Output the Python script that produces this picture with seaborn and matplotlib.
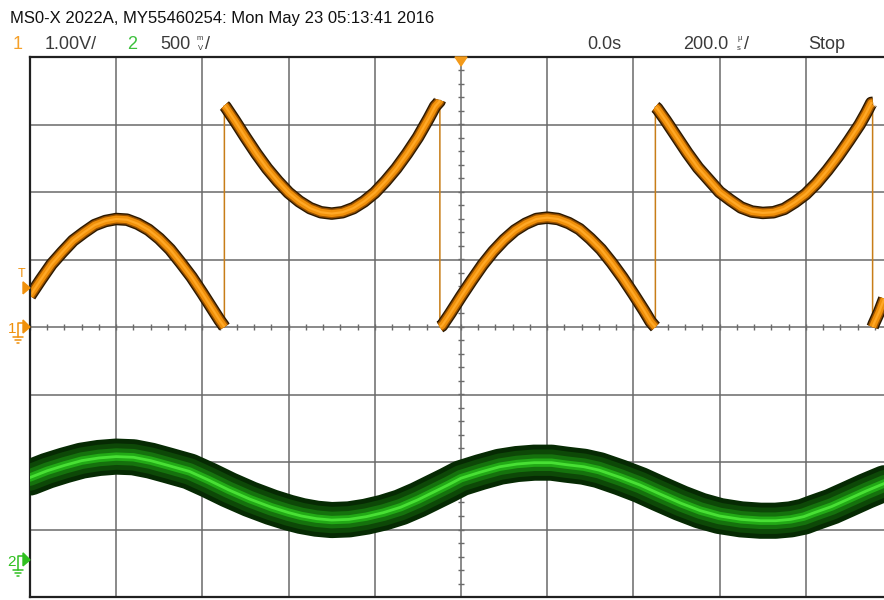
import numpy as np
import pandas as pd
import seaborn as sns
import matplotlib.pyplot as plt
from matplotlib.lines import Line2D
from matplotlib.patches import Polygon

# header texts
title = 'MS0-X 2022A, MY55460254: Mon May 23 05:13:41 2016'
ch1_label = '1'
ch1_scale = '1.00V/'
ch2_label = '2'
ch2_scale = '500'
time_pos = '0.0s'
time_scale = '200.0'
run_state = 'Stop'

# channel 1, time in us, volts (a repeated time is a vertical edge)
ch1_t = [-1000, -975, -950, -925, -900, -875, -850, -825, -800, -775, -750, -725, -700,
         -675, -650, -625, -600, -575, -560, -552, -549,
         -549, -546, -525, -500, -475, -450, -425, -400, -375, -350, -325, -300, -275,
         -250, -225, -200, -175, -150, -125, -100, -75, -60, -50, -49,
         -49, -44, -25, 0, 25, 50, 75, 100, 125, 150, 175, 200, 225, 250, 275, 300,
         325, 350, 375, 400, 425, 440, 448, 451,
         451, 455, 475, 500, 525, 550, 575, 600, 625, 650, 675, 700, 725, 750, 775,
         800, 825, 850, 875, 900, 925, 940, 952, 955,
         955, 958, 970, 982]
ch1_v = [0.46, 0.70, 0.93, 1.11, 1.28, 1.40, 1.51, 1.57, 1.60, 1.59, 1.53, 1.44, 1.31,
         1.15, 0.95, 0.74, 0.50, 0.25, 0.10, 0.03, 0.0,
         3.28, 3.26, 3.06, 2.81, 2.57, 2.35, 2.16, 1.99, 1.86, 1.76, 1.70, 1.68, 1.70,
         1.76, 1.86, 1.99, 2.16, 2.35, 2.57, 2.81, 3.09, 3.27, 3.34, 3.36,
         0.0, 0.02, 0.20, 0.45, 0.69, 0.92, 1.12, 1.29, 1.43, 1.53, 1.60, 1.62, 1.60, 1.54,
         1.45, 1.31, 1.15, 0.95, 0.73, 0.49, 0.24, 0.08, 0.02, 0.0,
         3.26, 3.24, 3.06, 2.82, 2.58, 2.36, 2.18, 2.00, 1.88, 1.77, 1.71, 1.69, 1.70, 1.75,
         1.85, 1.97, 2.13, 2.32, 2.53, 2.76, 3.00, 3.17, 3.32, 3.32,
         0.0, 0.05, 0.22, 0.42]

# channel 2, time in us, volts
ch2_t = [-1000, -960, -920, -880, -840, -800, -760, -720, -680, -630, -585, -540, -490,
         -440, -400, -370, -335, -300, -260, -220, -180, -140, -100, -65, -30,
         0, 45, 90, 130, 170, 210, 245, 285, 320, 370, 415, 460, 510, 555, 600,
         650, 695, 730, 765, 795, 820, 860, 895, 940, 985]
ch2_v = [0.61, 0.66, 0.70, 0.735, 0.755, 0.765, 0.76, 0.735, 0.70, 0.655, 0.59, 0.52, 0.45,
         0.39, 0.35, 0.325, 0.305, 0.295, 0.30, 0.32, 0.35, 0.39, 0.445, 0.50, 0.555,
         0.605, 0.65, 0.69, 0.71, 0.72, 0.72, 0.705, 0.69, 0.665, 0.61, 0.555, 0.49, 0.42,
         0.365, 0.325, 0.30, 0.29, 0.29, 0.30, 0.32, 0.35, 0.395, 0.445, 0.51, 0.57]

trig_level = 0.58
ch2_ground_div = -3.45

orange = '#f0900a'
green = '#3cc03c'
gridc = '#6a6a6a'
textc = '#3a3a3a'

sns.set_style('white')
plt.rcParams['font.family'] = ['Liberation Sans', 'DejaVu Sans']

W, H = 884, 600
fig = plt.figure(figsize=(W / 100, H / 100), dpi=100)
fig.patch.set_facecolor('white')


def fx(x):
    return x / W


def fy(y):
    return 1 - y / H


ax = fig.add_axes([fx(30), 3 / H, 862 / W, 540 / H])
ax.set_xlim(-1000, 1000)
ax.set_ylim(-4, 4)
ax.set_xticks(np.arange(-1000, 1001, 200))
ax.set_yticks(np.arange(-4, 5, 1))
ax.grid(True, color=gridc, lw=1.1)
ax.set_axisbelow(True)
ax.tick_params(length=0, labelbottom=False, labelleft=False)
for s in ['top', 'bottom', 'left']:
    ax.spines[s].set_color('#202020')
    ax.spines[s].set_linewidth(1.6)
ax.spines['right'].set_visible(False)

# minor ticks on the centre lines
ax.vlines(np.arange(-1000, 1001, 40), -0.05, 0.05, color=gridc, lw=1)
ax.hlines(np.arange(-4, 4.01, 0.2), -8, 8, color=gridc, lw=1)

# channel 1
t1 = np.array(ch1_t, float)
v1 = np.array(ch1_v, float)
seg = np.concatenate([[0], np.cumsum(np.diff(t1) == 0)])
df1 = pd.DataFrame({'t': t1, 'v': v1, 'seg': seg})
sns.lineplot(data=df1, x='t', y='v', sort=False, estimator=None,
             color='#c87d18', lw=1.1, ax=ax)
for col, lw in [('#2a1800', 9), ('#9a5200', 7), (orange, 5), ('#ffa826', 1.6)]:
    sns.lineplot(data=df1, x='t', y='v', units='seg', sort=False, estimator=None,
                 color=col, lw=lw, ax=ax, solid_capstyle='butt')
ax.set_xlabel('')
ax.set_ylabel('')

# channel 2 on its own scale (500 mV/div)
ax2 = ax.twinx()
ax2.set_ylim((-4 - ch2_ground_div) * 0.5, (4 - ch2_ground_div) * 0.5)
df2 = pd.DataFrame({'t': ch2_t, 'v': ch2_v})
for col, lw in [('#062a03', 26), ('#0d4807', 19), ('#15720d', 12), ('#22aa16', 6), ('#48e034', 2)]:
    sns.lineplot(data=df2, x='t', y='v', sort=False, estimator=None,
                 color=col, lw=lw, ax=ax2)
ax2.set_ylabel('')
ax2.set_yticks([])
ax2.grid(False)
for s in ax2.spines.values():
    s.set_visible(False)

# header
fig.text(fx(10), fy(23), title, fontsize=12.0, color='#111111', va='baseline')
fig.text(fx(13), fy(49), ch1_label, fontsize=13, color='#f5a02a', va='baseline')
fig.text(fx(45), fy(49), ch1_scale, fontsize=13, color=textc, va='baseline')
fig.text(fx(127), fy(49), ch2_label, fontsize=13, color=green, va='baseline')
fig.text(fx(160), fy(49), ch2_scale, fontsize=13, color=textc, va='baseline')
fig.text(fx(197), fy(40.5), 'm', fontsize=5.5, color=textc, va='baseline')
fig.text(fx(198), fy(50.5), 'V', fontsize=5.5, color=textc, va='baseline')
fig.text(fx(205), fy(49), '/', fontsize=13, color=textc, va='baseline')
fig.text(fx(587), fy(49), time_pos, fontsize=13, color=textc, va='baseline')
fig.text(fx(683), fy(49), time_scale, fontsize=13, color=textc, va='baseline')
fig.text(fx(737), fy(40.5), 'µ', fontsize=5.5, color=textc, va='baseline')
fig.text(fx(737), fy(50.5), 's', fontsize=5.5, color=textc, va='baseline')
fig.text(fx(744), fy(49), '/', fontsize=13, color=textc, va='baseline')
fig.text(fx(808), fy(49), run_state, fontsize=13, color=textc, va='baseline')

# trigger position marker at the top
fig.patches.append(Polygon([(fx(455), fy(57)), (fx(467), fy(57)), (fx(461), fy(66))],
                           closed=True, color='#f39a1a', transform=fig.transFigure))

# trigger level marker
ty = 327 - trig_level * 67.5
fig.text(fx(22), fy(ty - 11), 'T', fontsize=9, color=orange, ha='center', va='baseline')
fig.patches.append(Polygon([(fx(23), fy(ty - 6)), (fx(23), fy(ty + 6)), (fx(30), fy(ty))],
                           closed=True, color=orange, transform=fig.transFigure))


def ground_marker(label, y, col):
    fig.text(fx(12), fy(y + 6), label, fontsize=11, color=col, ha='center', va='baseline')
    segs = [[(18, y + 10), (18, y - 4), (24, y - 4)],
            [(13, y + 10), (23, y + 10)],
            [(15, y + 13), (21, y + 13)],
            [(17, y + 16), (19, y + 16)]]
    for s in segs:
        xs = [fx(p[0]) for p in s]
        ys = [fy(p[1]) for p in s]
        fig.lines.append(Line2D(xs, ys, color=col, lw=1.1, transform=fig.transFigure))
    fig.patches.append(Polygon([(fx(23), fy(y - 7)), (fx(23), fy(y + 6)), (fx(30), fy(y))],
                               closed=True, color=col, transform=fig.transFigure))


ground_marker('1', 327, orange)
ground_marker('2', 327 - ch2_ground_div * 67.5, '#30c020')

fig.savefig('out.png', dpi=100)
